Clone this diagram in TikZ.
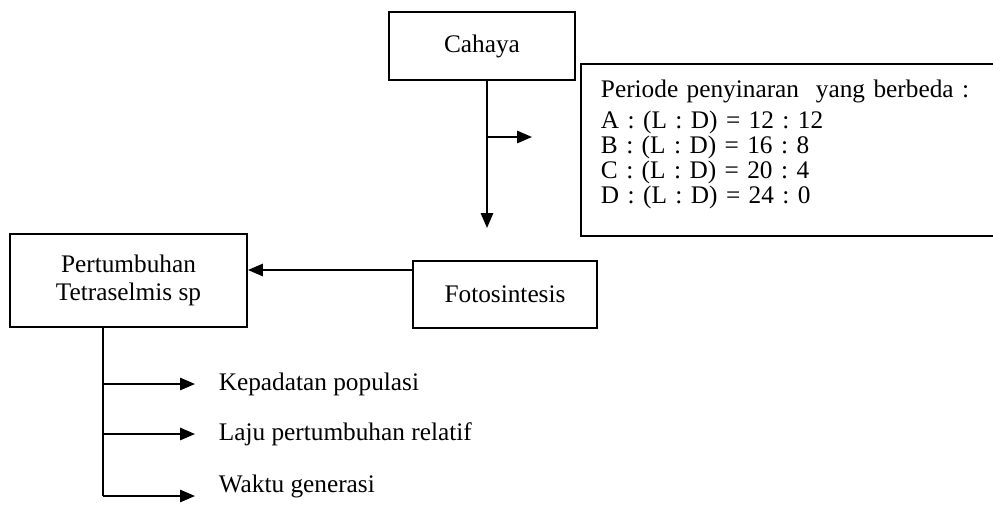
\documentclass[tikz,border=0pt]{standalone}
\usepackage{fontspec}
\setmainfont{Liberation Serif}
\usetikzlibrary{arrows.meta}
\begin{document}
\begin{tikzpicture}[x=0.02cm, y=-0.02cm, line width=1.1pt, >={Triangle[length=8.5pt,width=7pt]},
    box node/.style={rectangle,draw,align=center,font=\fontsize{14.4}{15.5}\selectfont},
    out node/.style={anchor=west,inner xsep=13pt,font=\fontsize{14.4}{15.5}\selectfont}]
                \clip (0, 0) rectangle (993, 504);
                \node[box node, minimum width=3.72cm, minimum height=1.36cm] at (482, 46) (cahaya) {Cahaya};
                \node[box node, anchor=north west, minimum height=3.44cm, text width=7.6cm, inner xsep=0.4cm, align=left,
                    font=\fontsize{14.4}{14.3}\selectfont\frenchspacing] at (580, 63) (periode)
                    {Periode penyinaran\ \ yang berbeda :\\[3pt] A : (L : D) = 12 : 12\\ B : (L : D) = 16 : 8\\ C : (L : D) = 20 : 4\\ D : (L : D) = 24 : 0\rule[-9pt]{0pt}{9pt}};
                \node[box node, minimum width=3.68cm, minimum height=1.34cm] at (505, 294.5) (fotosintesis) {Fotosintesis};
                \node[box node, minimum width=4.74cm, minimum height=1.86cm] at (128.5, 280.5) (pertumbuhan) {Pertumbuhan\\ Tetraselmis sp};

                \node[out node] at (195, 384) (kepadatan) {Kepadatan populasi};
                \node[out node] at (195, 434) (laju) {Laju pertumbuhan relatif};
                \node[out node, anchor=base west] at (195, 492) (waktu) {Waktu generasi};

                \coordinate (split) at (487, 137);
                \coordinate (down) at (487, 228);
                \coordinate (side) at (532, 137);
                \coordinate (level) at (0, 270);
                \coordinate (trunk) at (103, 496);

            \path[->] (cahaya.south -| split) edge (down);
            \path[->] (split) edge (side);
            \path[->] (fotosintesis.west |- level) edge (pertumbuhan.east |- level);

            \draw (pertumbuhan.south -| trunk) -- (trunk);
            \path[->] (trunk |- kepadatan) edge (kepadatan.west);
            \path[->] (trunk |- laju) edge (laju.west);
            \path[->] (trunk) edge (waktu.west |- trunk);

            \end{tikzpicture}
\end{document}
